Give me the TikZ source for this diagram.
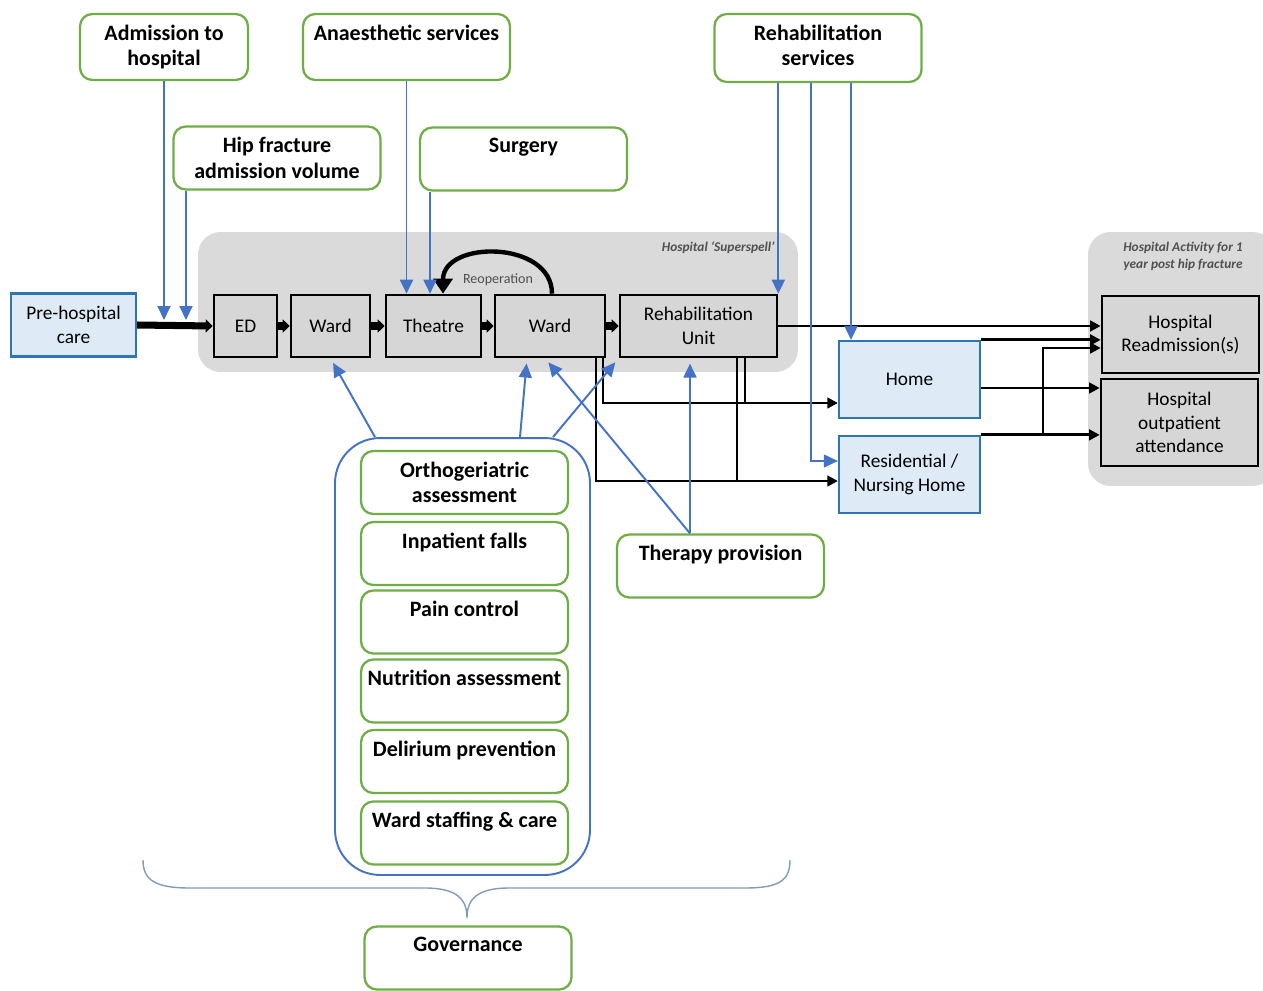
\documentclass[tikz,border=0pt]{standalone}
\usepackage{fontspec}
\setmainfont{Carlito}
\usetikzlibrary{arrows.meta}
\usetikzlibrary{calc}

\definecolor{fgreen}{HTML}{70AD47}
\definecolor{iblue}{HTML}{4472C4}
\definecolor{pblue}{HTML}{2E75B6}
\definecolor{pfill}{HTML}{DEEBF7}
\definecolor{stagegrey}{HTML}{D6D6D6}
\definecolor{areagrey}{HTML}{DADADA}
\definecolor{labgrey}{HTML}{505050}
\definecolor{bracecol}{HTML}{7F9DB9}

\newcommand{\factfont}{\bfseries\fontsize{12.5}{14.7}\selectfont}
\newcommand{\stagefont}{\fontsize{11}{13.4}\selectfont}
\newcommand{\arealabfont}{\bfseries\itshape\fontsize{7.6}{9.6}\selectfont}

\begin{document}
\begin{tikzpicture}[x=0.02cm, y=-0.02cm,
    factor/.style={draw=fgreen, line width=1.3pt, rounded corners=7pt, fill=white,
      minimum width=4.14cm, minimum height=1.26cm, inner sep=0pt},
    ftext/.style={anchor=north, yshift=-6.5pt, inner sep=0pt, align=center, font=\factfont},
    stage/.style={draw=black, line width=1.5pt, fill=stagegrey, minimum height=1.24cm,
      inner sep=1pt, align=center, font=\stagefont},
    place/.style={draw=pblue, line width=1.3pt, fill=pfill, inner sep=1pt, align=center, font=\stagefont},
    area/.style={fill=areagrey, rounded corners=0.45cm, inner sep=0pt},
    arealab/.style={font=\arealabfont, text=labgrey, inner sep=0pt, align=center},
    infl/.style={draw=iblue, line width=1.1pt, -{Triangle[length=2.8mm, width=2.6mm]}},
    flow/.style={line width=1.6pt, -{Triangle[length=2.1mm, width=2.1mm]}},
    flowline/.style={line width=1.6pt},
    stepflow/.style={line width=4pt, -{Triangle[length=1.4mm, width=2.6mm]}},
    reop/.style={line width=2.5pt, -{Triangle[length=3mm, width=3.8mm]}},
  ]
  \useasboundingbox (0,0) rectangle (1263,990);

  % shaded areas
  \node[area, minimum width=12cm, minimum height=2.8cm] (spell) at (498,302) {};
  \node[area, minimum width=3.74cm, minimum height=5.08cm] (post) at (1181.5,359) {};
  \node[arealab, anchor=east] (spelllab) at (775,248) {Hospital ‘Superspell’};
  \node[arealab] (postlab) at (1183,256) {Hospital Activity for 1\\year post hip fracture};

  % patient pathway
  \node[place, minimum width=2.5cm, minimum height=1.26cm] (pre) at (73.5,325) {Pre-hospital\\care};
  \node[stage, minimum width=1.26cm] (ed) at (245.5,326) {ED};
  \node[stage, minimum width=1.58cm] (ward1) at (330.5,326) {Ward};
  \node[stage, minimum width=1.9cm] (theatre) at (433.5,326) {Theatre};
  \node[stage, minimum width=2.2cm] (ward2) at (550,326) {Ward};
  \node[stage, minimum width=3.14cm] (rehab) at (698.5,326) {Rehabilitation\\Unit};
  \node[place, minimum width=2.82cm, minimum height=1.54cm] (home) at (909.5,379.5) {Home};
  \node[place, minimum width=2.82cm, minimum height=1.54cm] (resid) at (909.5,474.5) {Residential /\\Nursing Home};
  \node[stage, minimum width=3.14cm, minimum height=1.54cm] (readm) at (1180.5,334.5) {Hospital\\Readmission(s)};
  \node[stage, minimum width=3.14cm, minimum height=1.74cm] (outp) at (1179.5,422.5) {Hospital\\outpatient\\attendance};

  % factors
  \node[factor, minimum width=3.36cm, minimum height=1.32cm, label={[ftext]north:{Admission to\\hospital}}] (adm) at (164,47) {};
  \node[factor, minimum height=1.32cm, label={[ftext]north:Anaesthetic services}] (anae) at (406.5,47) {};
  \node[factor, label={[ftext]north:{Hip fracture\\admission volume}}] (hip) at (277,158) {};
  \node[factor, label={[ftext]north:Surgery}] (surg) at (523.5,159) {};
  \node[factor, minimum height=1.36cm, label={[ftext]north:{Rehabilitation\\services}}] (rsrv) at (818,48) {};
  \node[factor, label={[ftext]north:Therapy provision}] (ther) at (720.5,566) {};

  \node[draw=iblue, line width=1.1pt, rounded corners=0.9cm, minimum width=5.1cm, minimum height=8.74cm] (grp) at (462.5,656.5) {};
  \foreach \n/\y/\t in {orth/482.5/{Orthogeriatric\\assessment}, falls/553.5/{Inpatient falls},
      pain/622/{Pain control}, nutr/691/{Nutrition assessment}, deli/761.5/{Delirium prevention},
      staff/833/{Ward staffing \& care}}{
    \node[factor, label={[ftext]north:{\t}}] (\n) at (464.5,\y) {};
  }
  \node[factor, label={[ftext]north:Governance}] (gov) at (468,958) {};

  % governance brace
  \draw[bracecol, line width=0.8pt] (143,860) .. controls (143,880) and (155,888) .. (190,888) -- (425,888)
    .. controls (458,888) and (467,900) .. (467,918) .. controls (467,900) and (476,888) .. (509,888)
    -- (745,888) .. controls (780,888) and (790,880) .. (790,860);

  % flow through the hospital
  \draw[stepflow] (pre.east) -- (ed.west);
  \foreach \a/\b in {ed/ward1, ward1/theatre, theatre/ward2, ward2/rehab}{
    \draw[stepflow] (\a) -- (\b);
  }
  \coordinate (r1) at (552,0);
  \coordinate (r2) at (443,0);
  \draw[reop] (ward2.north -| r1) .. controls (552,240) and (443,240) .. (theatre.north -| r2);
  \node[font=\fontsize{8}{9}\selectfont, text=labgrey, inner sep=0pt] (reoplab) at (498,280) {Reoperation};

  \coordinate (wa) at (596,0);
  \coordinate (wb) at (603,0);
  \coordinate (ra) at (737,0);
  \coordinate (rb) at (745,0);
  \coordinate (rh) at (0,403);
  \coordinate (rr) at (0,481);
  \draw[flow] (ward2.south -| wb) |- (home.west |- rh);
  \draw[flow] (ward2.south -| wa) |- (resid.west |- rr);
  \draw[flowline] (rehab.south -| rb) -- (rb |- rh);
  \draw[flowline] (rehab.south -| ra) -- (ra |- rr);

  \coordinate (j1) at (1043,348);
  \coordinate (h2) at (0,388);
  \draw[flow] (rehab.east) -- (readm.west |- rehab.east);
  \draw[flow] (home.north east) -- (readm.west |- home.north east);
  \draw[flow] (resid.north east) -| (j1) -- (readm.west |- j1);
  \draw[flow] (home.east |- h2) -- (outp.west |- h2);
  \draw[flow] (resid.north east) -- (outp.west |- resid.north east);

  % influences
  \coordinate (admin) at (164,320);
  \coordinate (hipin) at (186,320);
  \coordinate (surgx) at (430,0);
  \coordinate (homex) at (851,0);
  \coordinate (resx) at (811,461);
  \draw[infl] (adm.south) -- (admin);
  \draw[infl] (hip.south -| hipin) -- (hipin);
  \draw[infl] (anae.south) -- (anae.south |- theatre.north);
  \draw[infl] (surg.south -| surgx) -- (theatre.north -| surgx);
  \draw[infl] (rsrv.south -| rehab.north east) -- (rehab.north east);
  \draw[infl] (rsrv.south -| homex) -- (home.north -| homex);
  \draw[infl, line width=0.6pt] (rsrv.south -| resx) |- (resid.west |- resx);

  \coordinate (g1) at (375,0);
  \coordinate (g2) at (520,0);
  \coordinate (g3) at (553,0);
  \coordinate (w2x) at (527,0);
  \coordinate (w2y) at (545,0);
  \coordinate (tx) at (690,0);
  \draw[infl, shorten >=3pt] (grp.north -| g1) -- (ward1.south);
  \draw[infl, shorten >=3pt] (grp.north -| g2) -- (ward2.south -| w2x);
  \draw[infl, shorten >=3pt] (grp.north -| g3) -- (rehab.south west);
  \draw[infl, shorten >=3pt] (ther.north -| tx) -- (rehab.south -| tx);
  \draw[infl, shorten >=3pt] (ther.north -| tx) -- (ward2.south -| w2y);
\end{tikzpicture}
\end{document}
